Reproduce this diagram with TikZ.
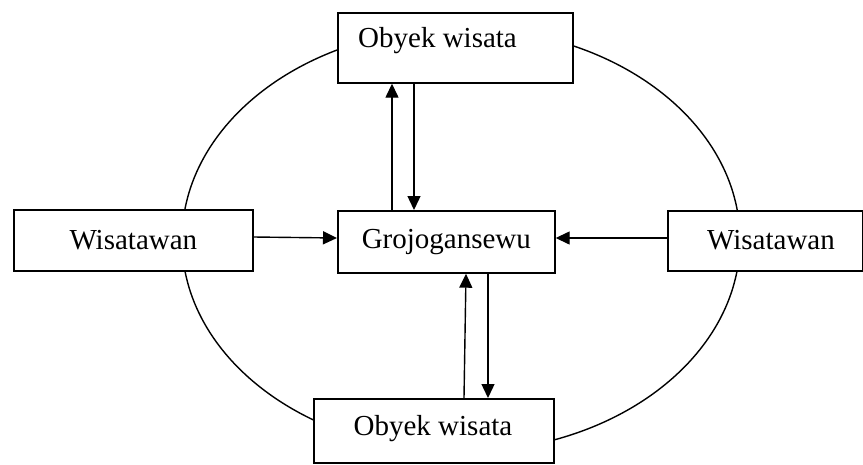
\documentclass[tikz,border=0pt]{standalone}
\usepackage{fontspec}
\setmainfont{Liberation Serif}
\usetikzlibrary{arrows.meta}
\begin{document}
\begin{tikzpicture}[x=1pt,y=-1pt,
  box/.style={draw=black, line width=1.7pt, fill=white, inner sep=0pt, anchor=north west},
  txt/.style={font=\fontsize{29}{34}\selectfont, inner sep=0pt},
  conn/.style={line width=1.4pt, -{Triangle[width=13pt,length=14pt]}}]
\useasboundingbox (0,0) rectangle (863,464);
\draw[line width=1.4pt] (461,240) ellipse [x radius=279, y radius=212];
% boxes
\node[box, minimum width=235pt, minimum height=70pt] (top) at (337,12) {};
\node[txt, anchor=west] (toptext) at (358,41) {Obyek wisata};
\node[box, minimum width=217pt, minimum height=62pt] (mid) at (337,210) {};
\node[txt] (midtext) at (mid.center) {Grojogansewu};
\node[box, minimum width=239pt, minimum height=61pt] (left) at (13,209) {};
\node[txt] (lefttext) at (left.center) {Wisatawan};
\node[box, minimum width=195pt, minimum height=60pt] (right) at (667,210) {};
\node[txt] (righttext) at (771,240) {Wisatawan};
\node[box, minimum width=240pt, minimum height=64pt] (bot) at (313,398) {};
\node[txt] (bottext) at (433,429) {Obyek wisata};
% connectors
\draw[conn] (392,0 |- mid.north) -- (392,0 |- top.south);
\draw[conn] (414,0 |- top.south) -- (414,0 |- mid.north);
\draw[conn] (464,0 |- bot.north) -- (466,0 |- mid.south);
\draw[conn] (488,0 |- mid.south) -- (488,0 |- bot.north);
\draw[conn] (left.east |- 0,237) -- (mid.west |- 0,238);
\draw[conn] (right.west |- 0,238) -- (mid.east |- 0,238);
\end{tikzpicture}
\end{document}
